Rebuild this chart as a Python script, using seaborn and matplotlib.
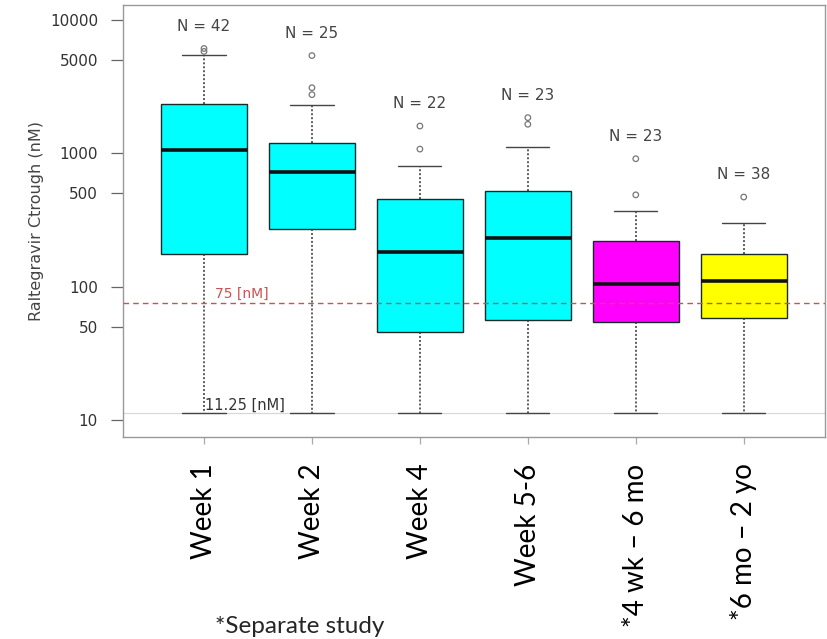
import pandas as pd
import numpy as np
import matplotlib
matplotlib.use("Agg")
import matplotlib.pyplot as plt
import seaborn as sns
from matplotlib.ticker import FixedLocator, NullLocator

groups = ["Week 1", "Week 2", "Week 4", "Week 5-6", "*4 wk \u2013 6 mo", "*6 mo \u2013 2 yo"]
whisker_low = [11.25, 11.25, 11.25, 11.25, 11.25, 11.25]
q1 = [176, 271, 46, 56, 54, 58]
median = [1060, 725, 182, 232, 105, 110]
q3 = [2350, 1200, 455, 523, 220, 176]
whisker_high = [5470, 2300, 800, 1120, 370, 300]
outliers = [[5800, 6100], [5400, 3100, 2750], [1600, 1075], [1850, 1650], [910, 488], [470]]
n_counts = [42, 25, 22, 23, 23, 38]
box_colors = ["#00FFFF", "#00FFFF", "#00FFFF", "#00FFFF", "#FF00FF", "#FFFF00"]

# five-number summaries as rows; whis=(0, 100) makes seaborn draw them exactly
rows = []
for g, a, b, c, d, e in zip(groups, whisker_low, q1, median, q3, whisker_high):
    for v in (a, b, c, d, e):
        rows.append({"group": g, "value": v})
df = pd.DataFrame(rows)

sns.set_style("white")
plt.rcParams["font.family"] = ["DejaVu Sans"]

fig = plt.figure(figsize=(8.28, 6.39), dpi=100)
ax = fig.add_axes([0.1486, 0.316, 0.8474, 0.676])

sns.boxplot(
    data=df, x="group", y="value", hue="group", palette=box_colors,
    order=groups, hue_order=groups, whis=(0, 100), log_scale=True,
    width=0.8, linecolor="#1a2a2a", linewidth=1.0, showfliers=False,
    saturation=1, legend=False, ax=ax,
    whiskerprops={"linestyle": (0, (1.3, 1.3)), "color": "#333333", "linewidth": 1.1},
    capprops={"color": "#444444"},
    medianprops={"color": "#111111", "linewidth": 2.6},
)

ax.axhline(11.25, color="#d8d8d8", lw=0.9, zorder=0)
ax.axhline(75, color="#d05050", lw=1.0, ls=(0, (4, 3)), zorder=3)
ax.text(0.1, 89, "75 [nM]", color="#d05050", fontsize=10, va="center", ha="left")
ax.text(0.01, 12.9, "11.25 [nM]", color="#333333", fontsize=10.5, va="center", ha="left")

for i, pts in enumerate(outliers):
    ax.scatter([i] * len(pts), pts, s=16, facecolors="none", edgecolors="#777777",
               linewidths=0.9, zorder=4)
    ax.text(i, max(pts) * 1.47, f"N = {n_counts[i]}", ha="center", va="center",
            fontsize=11, color="#444444")

ax.set_xlim(-0.75, 5.75)
ax.set_ylim(7.46, 12900)
ax.yaxis.set_major_locator(FixedLocator([10, 50, 100, 500, 1000, 5000, 10000]))
ax.yaxis.set_minor_locator(NullLocator())
ax.set_yticklabels(["10", "50", "100", "500", "1000", "5000", "10000"])
ax.tick_params(axis="y", left=True, length=9, width=0.9, color="#666666",
               labelsize=11, labelcolor="#333333", pad=9)
ax.tick_params(axis="x", bottom=True, length=5, width=0.9, color="#aaaaaa",
               labelsize=20, labelcolor="black", rotation=90, pad=14)
for lab in ax.get_xticklabels():
    lab.set_family(["Lato", "DejaVu Sans"])
ax.set_xlabel("")
ax.set_ylabel("Raltegravir Ctrough (nM)", fontsize=11.5, color="#444444", labelpad=4)
for s in ax.spines.values():
    s.set_color("#999999")
    s.set_linewidth(1.0)

fig.text(0.362, 0.019, "*Separate study", fontsize=17.5, ha="center", va="center",
         family=["Lato", "DejaVu Sans"])

fig.savefig("out.png", dpi=100)
